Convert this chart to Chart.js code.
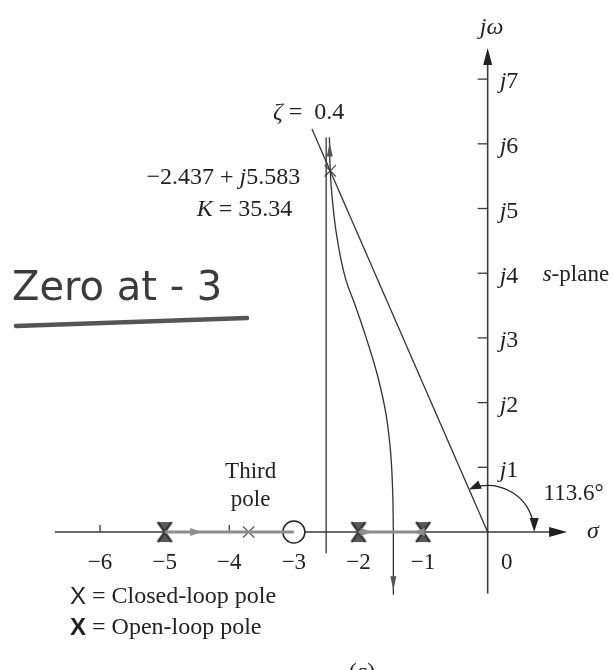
<!DOCTYPE html>
<html lang="en">
<head>
<meta charset="UTF-8">
<title>Root locus - zero at -3</title>
<script src="https://cdn.jsdelivr.net/npm/chart.js"></script>
<style>
  body { margin: 0; background: #fff; }
  #wrap { width: 615px; height: 670px; }
</style>
</head>
<body>
<div id="wrap"><canvas id="locus" width="615" height="670"></canvas></div>
<script>
// s-plane data (sigma = real part, omega = imaginary part)
const realTicks = [-6, -5, -4, -3, -2, -1];
const realTickLabels = ['\u22126', '\u22125', '\u22124', '\u22123', '\u22122', '\u22121'];
const imagTicks = [1, 2, 3, 4, 5, 6, 7];
const openLoopPoles = [-5, -2, -1];
const zeros = [-3];
const closedLoopPoles = [
  { x: -3.7, y: 0 },
  { x: -2.437, y: 5.583 }
];
const gainAtPole = 35.34;
const zeta = 0.4;
const zetaAngle = 113.6;

// root locus branches
const upperBranch = [
  { x: -1.46, y: 0 }, { x: -1.47, y: 0.6 }, { x: -1.5, y: 1.2 }, { x: -1.57, y: 1.8 },
  { x: -1.7, y: 2.4 }, { x: -1.88, y: 3.0 }, { x: -2.05, y: 3.5 }, { x: -2.21, y: 3.95 },
  { x: -2.34, y: 4.6 }, { x: -2.41, y: 5.2 }, { x: -2.437, y: 5.583 }, { x: -2.45, y: 6.1 }
];
const lowerBranch = [{ x: -1.46, y: 0 }, { x: -1.46, y: -0.97 }];
const asymptote = [{ x: -2.5, y: -0.33 }, { x: -2.5, y: 6.1 }];
const zetaLine = [{ x: 0, y: 0 }, { x: -2.72, y: 6.23 }];
const realSegA = [{ x: -5, y: 0 }, { x: -3, y: 0 }];
const realSegB = [{ x: -2, y: 0 }, { x: -1, y: 0 }];
// arrow positions and directions along the locus
const locusArrows = [
  { x: -4.42, y: 0, dx: 1, dy: 0 },
  { x: -1.78, y: 0, dx: 1, dy: 0 },
  { x: -1.16, y: 0, dx: -1, dy: 0 },
  { x: -2.445, y: 6.02, dx: 0, dy: 1 },
  { x: -1.46, y: -0.9, dx: 0, dy: -1 }
];

const SERIF = '"Liberation Serif", "DejaVu Serif", serif';
const SANS = '"Liberation Sans", sans-serif';
const FS = 24;

// bold open-loop pole marker (hourglass-like cross)
function makeOpenPole() {
  const c = document.createElement('canvas');
  c.width = 18; c.height = 22;
  const g = c.getContext('2d');
  g.fillStyle = '#5a5a5a';
  g.beginPath(); g.moveTo(2, 1); g.lineTo(16, 1); g.lineTo(9, 11); g.closePath(); g.fill();
  g.beginPath(); g.moveTo(2, 21); g.lineTo(16, 21); g.lineTo(9, 11); g.closePath(); g.fill();
  g.strokeStyle = '#333'; g.lineWidth = 2.2;
  g.beginPath(); g.moveTo(2, 1); g.lineTo(16, 21); g.moveTo(16, 1); g.lineTo(2, 21); g.stroke();
  return c;
}

function runFont(r, size) {
  return (r.i ? 'italic ' : '') + (r.b ? 'bold ' : '') + size + 'px ' + (r.f || SERIF);
}

// draw runs of text where some runs are italic or bold
function drawRuns(ctx, runs, x, y, size, align) {
  let total = 0;
  runs.forEach(r => {
    ctx.font = runFont(r, size);
    r.w = ctx.measureText(r.t).width;
    total += r.w;
  });
  let cx = align === 'right' ? x - total : align === 'center' ? x - total / 2 : x;
  runs.forEach(r => {
    ctx.font = runFont(r, size);
    ctx.textAlign = 'left';
    ctx.fillText(r.t, cx, y);
    cx += r.w;
  });
}

function arrowHead(ctx, px, py, dx, dy, len, half, color) {
  const nx = -dy, ny = dx;
  ctx.fillStyle = color;
  ctx.beginPath();
  ctx.moveTo(px, py);
  ctx.lineTo(px - dx * len + nx * half, py - dy * len + ny * half);
  ctx.lineTo(px - dx * len - nx * half, py - dy * len - ny * half);
  ctx.closePath();
  ctx.fill();
}

const planePlugin = {
  id: 'splane',
  beforeDatasetsDraw(chart) {
    const { ctx, scales: { x, y } } = chart;
    const ox = x.getPixelForValue(0), oy = y.getPixelForValue(0);
    ctx.save();
    ctx.strokeStyle = '#3a3a3a';
    ctx.lineWidth = 1.6;
    // sigma axis
    ctx.beginPath();
    ctx.moveTo(x.getPixelForValue(-6.7), oy);
    ctx.lineTo(x.getPixelForValue(1.1), oy);
    ctx.stroke();
    arrowHead(ctx, x.getPixelForValue(1.23), oy, 1, 0, 18, 5, '#222');
    // j-omega axis
    ctx.beginPath();
    ctx.moveTo(ox, y.getPixelForValue(-0.95));
    ctx.lineTo(ox, y.getPixelForValue(7.3));
    ctx.stroke();
    arrowHead(ctx, ox, y.getPixelForValue(7.48), 0, -1, 17, 4.5, '#222');
    // ticks
    ctx.lineWidth = 1.3;
    realTicks.forEach(v => {
      const px = x.getPixelForValue(v);
      ctx.beginPath(); ctx.moveTo(px, oy); ctx.lineTo(px, oy - 7); ctx.stroke();
    });
    imagTicks.forEach(v => {
      const py = y.getPixelForValue(v);
      ctx.beginPath(); ctx.moveTo(ox - 10, py); ctx.lineTo(ox, py); ctx.stroke();
    });
    // damping angle arc
    const r = x.getPixelForValue(0.72) - ox;
    const a0 = -zetaAngle * Math.PI / 180;
    ctx.lineWidth = 1.3;
    ctx.strokeStyle = '#222';
    ctx.beginPath();
    ctx.arc(ox, oy, r, a0 + 0.12, -0.1);
    ctx.stroke();
    ctx.restore();
  },
  afterDatasetsDraw(chart) {
    const { ctx, scales: { x, y } } = chart;
    const ox = x.getPixelForValue(0), oy = y.getPixelForValue(0);
    ctx.save();
    // locus arrows
    locusArrows.forEach(a => {
      const px = x.getPixelForValue(a.x), py = y.getPixelForValue(a.y);
      const onAxis = a.dy === 0;
      arrowHead(ctx, px, py, a.dx, -a.dy, onAxis ? 12 : 14, onAxis ? 4 : 3, onAxis ? '#8d8d8d' : '#555');
    });
    // arrowheads of the angle arc
    const r = x.getPixelForValue(0.72) - ox;
    const a0 = -zetaAngle * Math.PI / 180;
    const sx = ox + r * Math.cos(a0), sy = oy + r * Math.sin(a0);
    arrowHead(ctx, sx, sy, Math.cos(a0 - Math.PI / 2), Math.sin(a0 - Math.PI / 2), 12, 4.5, '#222');
    arrowHead(ctx, ox + r, oy, 0, 1, 14, 4.5, '#222');

    ctx.fillStyle = '#222';
    ctx.textBaseline = 'middle';
    // axis labels
    ctx.textAlign = 'center';
    ctx.font = (FS - 1) + 'px ' + SERIF;
    realTicks.forEach((v, i) => ctx.fillText(realTickLabels[i], x.getPixelForValue(v), oy + 31));
    ctx.fillText('0', ox + 19, oy + 31);
    imagTicks.forEach(v => drawRuns(ctx, [{ t: 'j', i: true }, { t: String(v) }], ox + 12, y.getPixelForValue(v) + 3, FS, 'left'));
    drawRuns(ctx, [{ t: 'j\u03c9', i: true }], ox + 4, 28, FS, 'center');
    drawRuns(ctx, [{ t: '\u03c3', i: true }], x.getPixelForValue(1.63), oy, FS, 'center');
    drawRuns(ctx, [{ t: 's', i: true }, { t: '-plane' }], ox + 55, y.getPixelForValue(4) + 2, FS - 1, 'left');
    drawRuns(ctx, [{ t: zetaAngle.toFixed(1) + '\u00b0' }], ox + 86, oy - 38, FS - 1, 'center');

    // closed-loop pole annotation
    const p = closedLoopPoles[1];
    const ppx = x.getPixelForValue(p.x), ppy = y.getPixelForValue(p.y);
    drawRuns(ctx, [{ t: '\u2212' + Math.abs(p.x).toFixed(3) + ' + ' }, { t: 'j', i: true }, { t: p.y.toFixed(3) }], ppx - 30, ppy + 7, FS, 'right');
    drawRuns(ctx, [{ t: 'K', i: true }, { t: ' = ' + gainAtPole.toFixed(2) }], ppx - 38, ppy + 39, FS, 'right');
    drawRuns(ctx, [{ t: '\u03b6', i: true }, { t: ' =  ' + zeta }], x.getPixelForValue(-2.77), 113, FS, 'center');

    // third pole label
    const t = closedLoopPoles[0];
    ctx.font = (FS - 1) + 'px ' + SERIF;
    ctx.textAlign = 'center';
    ctx.fillText('Third', x.getPixelForValue(t.x) + 2, oy - 60);
    ctx.fillText('pole', x.getPixelForValue(t.x) + 2, oy - 32);

    // key
    drawRuns(ctx, [{ t: 'X', f: SANS }, { t: ' = Closed-loop pole' }], 70, 597, FS, 'left');
    drawRuns(ctx, [{ t: 'X', f: SANS, b: true }, { t: ' = Open-loop pole' }], 70, 628, FS, 'left');
    ctx.font = FS + 'px ' + SERIF;
    ctx.textAlign = 'center';
    ctx.fillText('(c)', 362, 673);

    // handwritten note
    ctx.fillStyle = '#3c3c3c';
    ctx.font = '40px "DejaVu Sans", sans-serif';
    ctx.textAlign = 'left';
    ctx.fillText('Zero at - 3', 12, 290);
    ctx.strokeStyle = '#555';
    ctx.lineWidth = 4.5;
    ctx.lineCap = 'round';
    ctx.beginPath(); ctx.moveTo(16, 326); ctx.lineTo(247, 318); ctx.stroke();
    ctx.restore();
  }
};

const lineSet = (data, color, width, tension) => ({
  data, showLine: true, borderColor: color, borderWidth: width,
  pointRadius: 0, fill: false, tension: tension || 0
});

new Chart(document.getElementById('locus'), {
  type: 'scatter',
  data: {
    datasets: [
      lineSet(realSegA, '#8d8d8d', 3),
      lineSet(realSegB, '#8d8d8d', 3),
      lineSet(zetaLine, '#333', 1.3),
      lineSet(asymptote, '#333', 1.3),
      lineSet(upperBranch, '#333', 1.3, 0.4),
      lineSet(lowerBranch, '#333', 1.3),
      {
        data: zeros.map(v => ({ x: v, y: 0 })),
        pointStyle: 'circle', pointRadius: 11, borderWidth: 1.5,
        borderColor: '#222', backgroundColor: '#fff'
      },
      {
        data: openLoopPoles.map(v => ({ x: v, y: 0 })),
        pointStyle: makeOpenPole()
      },
      {
        data: closedLoopPoles,
        pointStyle: 'crossRot', pointRadius: 8, borderWidth: 1.2,
        borderColor: '#444'
      }
    ]
  },
  options: {
    responsive: false,
    animation: false,
    events: [],
    layout: { padding: 0, autoPadding: false },
    plugins: { legend: { display: false }, tooltip: { enabled: false } },
    scales: {
      x: { type: 'linear', display: false, min: -7.549, max: 1.971 },
      y: { type: 'linear', display: false, min: -2.133, max: 8.223 }
    }
  },
  plugins: [planePlugin]
});
</script>
</body>
</html>
